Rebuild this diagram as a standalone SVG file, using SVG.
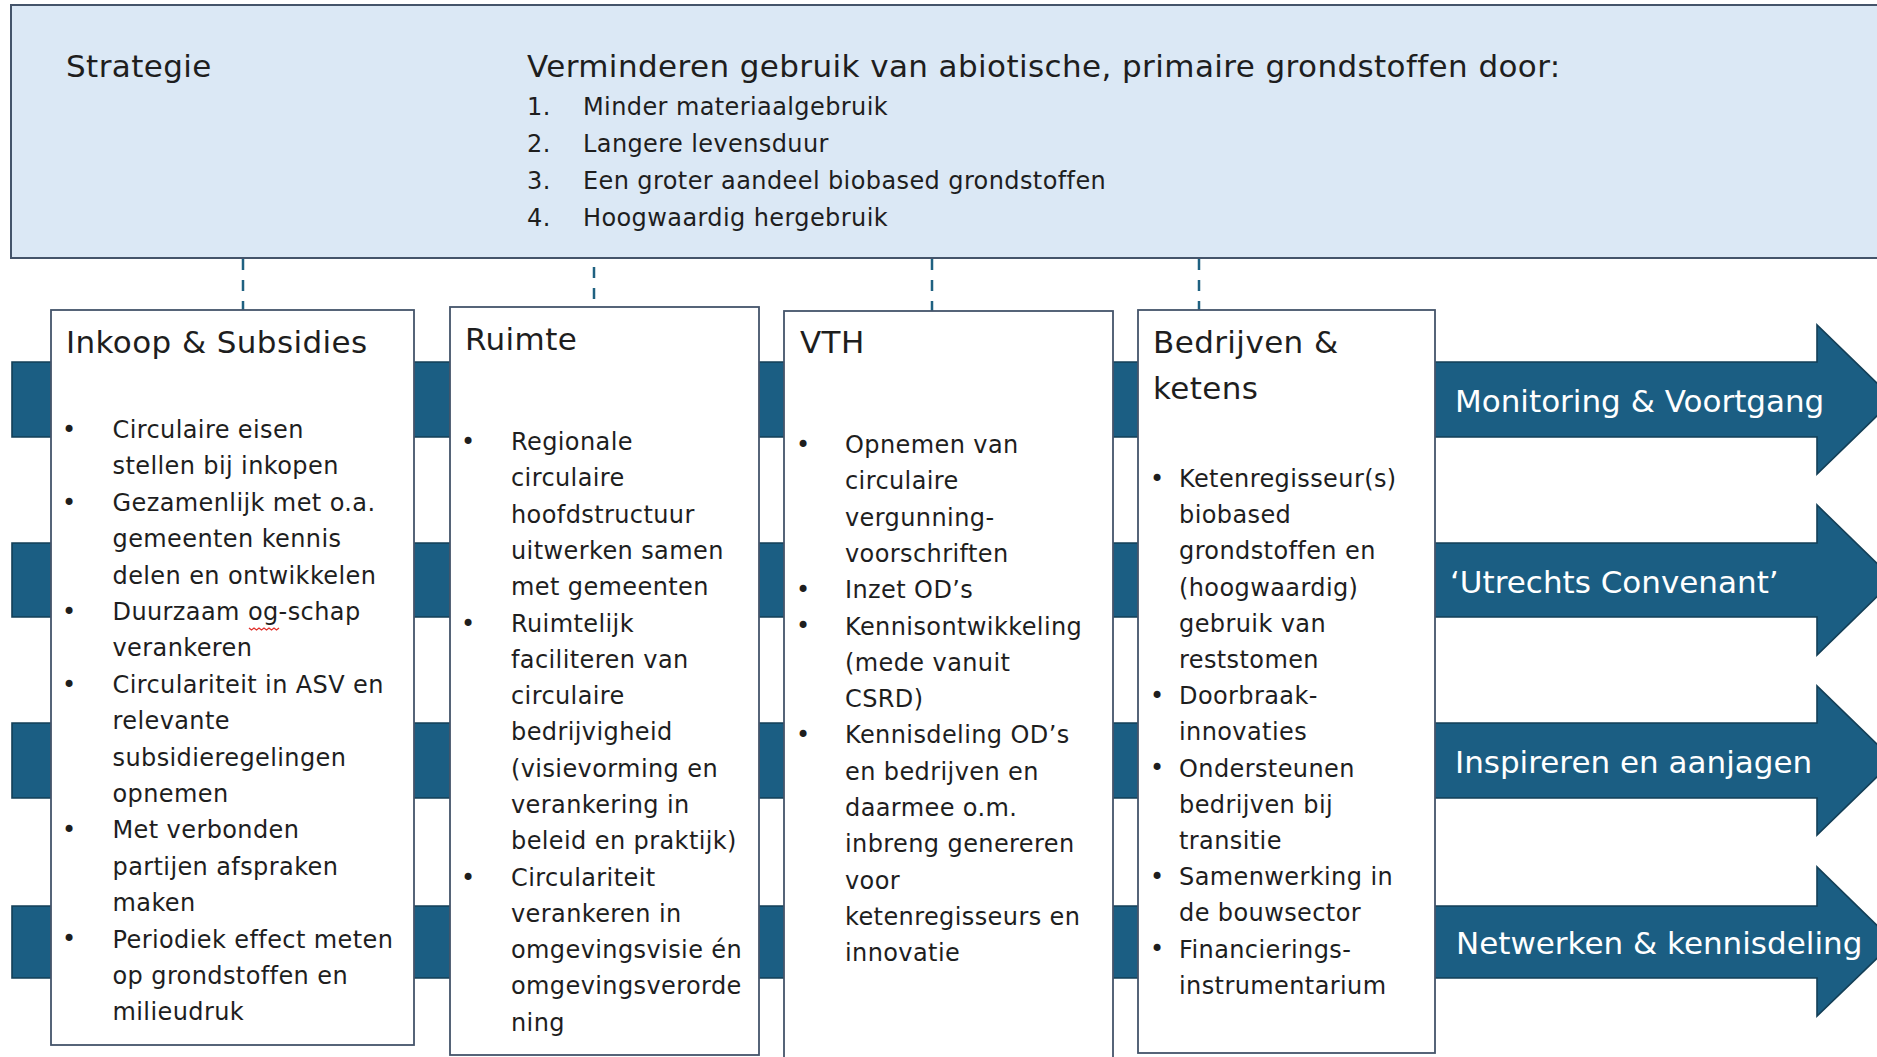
<svg xmlns="http://www.w3.org/2000/svg" width="1877" height="1057" viewBox="0 0 1877 1057">
<style>
.bg{fill:#ffffff}
.strat{fill:#dbe8f5;stroke:#44546a;stroke-width:2}
.box{fill:#ffffff;stroke:#44546a;stroke-width:1.8}
.band{fill:#1b5e83;stroke:#133f57;stroke-width:1.6}
.t{font-family:"DejaVu Sans",sans-serif;fill:#1e1e1e}
.h{font-size:31px;letter-spacing:0.4px}
.b{font-size:24px;letter-spacing:0.4px}
.lbl{font-family:"DejaVu Sans",sans-serif;font-size:31px;fill:#ffffff}
.dash{stroke:#1f6181;stroke-width:2.5;stroke-dasharray:11 10;fill:none}
.squig{fill:none;stroke:#e0302a;stroke-width:1.3}
</style>
<rect class="bg" x="0" y="0" width="1877" height="1057"/>

<g id="strategie">
<rect class="strat" x="11" y="5" width="1890" height="253"/>
<text class="t h" x="66" y="77">Strategie</text>
<text class="t h" x="527" y="77" letter-spacing="0.3">Verminderen gebruik van abiotische, primaire grondstoffen door:</text>
<g class="t b" letter-spacing="0.3">
<text x="527" y="115">1.</text><text x="583" y="115">Minder materiaalgebruik</text>
<text x="527" y="152">2.</text><text x="583" y="152">Langere levensduur</text>
<text x="527" y="189">3.</text><text x="583" y="189">Een groter aandeel biobased grondstoffen</text>
<text x="527" y="226">4.</text><text x="583" y="226">Hoogwaardig hergebruik</text>
</g>
</g>

<g id="band-monitoring">
<polygon class="band" points="12,362 1817,362 1817,325 1894,399.5 1817,474 1817,437 12,437"/>
<text class="lbl" x="1455" y="412">Monitoring &amp; Voortgang</text>
</g>
<g id="band-convenant">
<polygon class="band" points="12,543 1817,543 1817,505 1894,580 1817,655 1817,617 12,617"/>
<text class="lbl" x="1450" y="593">‘Utrechts Convenant’</text>
</g>
<g id="band-inspireren">
<polygon class="band" points="12,723 1817,723 1817,686 1894,760.5 1817,835 1817,798 12,798"/>
<text class="lbl" x="1455" y="773">Inspireren en aanjagen</text>
</g>
<g id="band-netwerken">
<polygon class="band" points="12,906 1817,906 1817,867 1894,942 1817,1016 1817,978 12,978"/>
<text class="lbl" x="1456" y="954">Netwerken &amp; kennisdeling</text>
</g>

<g id="connectors">
<line class="dash" x1="243" y1="259" x2="243" y2="310"/>
<line class="dash" x1="594" y1="267" x2="594" y2="307"/>
<line class="dash" x1="932" y1="259" x2="932" y2="311"/>
<line class="dash" x1="1199" y1="259" x2="1199" y2="310"/>
</g>

<g id="node-inkoop">
<rect class="box" x="51" y="310" width="363" height="735"/>
<text class="t h" x="66" y="353">Inkoop &amp; Subsidies</text>
<g class="t b">
<text x="62" y="438">•</text><text x="62" y="511">•</text><text x="62" y="620">•</text><text x="62" y="693">•</text><text x="62" y="838">•</text><text x="62" y="947">•</text>
</g>
<text class="t b" x="112.5" y="438">
<tspan x="112.5" dy="0">Circulaire eisen</tspan>
<tspan x="112.5" dy="36.4">stellen bij inkopen</tspan>
<tspan x="112.5" dy="36.4">Gezamenlijk met o.a.</tspan>
<tspan x="112.5" dy="36.4">gemeenten kennis</tspan>
<tspan x="112.5" dy="36.4">delen en ontwikkelen</tspan>
<tspan x="112.5" dy="36.4">Duurzaam og-schap</tspan>
<tspan x="112.5" dy="36.4">verankeren</tspan>
<tspan x="112.5" dy="36.4">Circulariteit in ASV en</tspan>
<tspan x="112.5" dy="36.4">relevante</tspan>
<tspan x="112.5" dy="36.4">subsidieregelingen</tspan>
<tspan x="112.5" dy="36.4">opnemen</tspan>
<tspan x="112.5" dy="36.4">Met verbonden</tspan>
<tspan x="112.5" dy="36.4">partijen afspraken</tspan>
<tspan x="112.5" dy="36.4">maken</tspan>
<tspan x="112.5" dy="36.4">Periodiek effect meten</tspan>
<tspan x="112.5" dy="36.4">op grondstoffen en</tspan>
<tspan x="112.5" dy="36.4">milieudruk</tspan>
</text>
<path class="squig" d="M249,628 l2.5,2 l2.5,-2 l2.5,2 l2.5,-2 l2.5,2 l2.5,-2 l2.5,2 l2.5,-2 l2.5,2 l2.5,-2 l2.5,2 l2.5,-2"/>
</g>

<g id="node-ruimte">
<rect class="box" x="450" y="307" width="309" height="748"/>
<text class="t h" x="465" y="350">Ruimte</text>
<g class="t b">
<text x="461" y="450">•</text><text x="461" y="632">•</text><text x="461" y="886">•</text>
</g>
<text class="t b" x="511" y="450">
<tspan x="511" dy="0">Regionale</tspan>
<tspan x="511" dy="36.3">circulaire</tspan>
<tspan x="511" dy="36.3">hoofdstructuur</tspan>
<tspan x="511" dy="36.3">uitwerken samen</tspan>
<tspan x="511" dy="36.3">met gemeenten</tspan>
<tspan x="511" dy="36.3">Ruimtelijk</tspan>
<tspan x="511" dy="36.3">faciliteren van</tspan>
<tspan x="511" dy="36.3">circulaire</tspan>
<tspan x="511" dy="36.3">bedrijvigheid</tspan>
<tspan x="511" dy="36.3">(visievorming en</tspan>
<tspan x="511" dy="36.3">verankering in</tspan>
<tspan x="511" dy="36.3">beleid en praktijk)</tspan>
<tspan x="511" dy="36.3">Circulariteit</tspan>
<tspan x="511" dy="36.3">verankeren in</tspan>
<tspan x="511" dy="36.3">omgevingsvisie én</tspan>
<tspan x="511" dy="36.3">omgevingsverorde</tspan>
<tspan x="511" dy="36.3">ning</tspan>
</text>
</g>

<g id="node-vth">
<rect class="box" x="784" y="311" width="329" height="770"/>
<text class="t h" x="800" y="353">VTH</text>
<g class="t b">
<text x="796" y="453">•</text><text x="796" y="598">•</text><text x="796" y="634">•</text><text x="796" y="743">•</text>
</g>
<text class="t b" x="845" y="453">
<tspan x="845" dy="0">Opnemen van</tspan>
<tspan x="845" dy="36.3">circulaire</tspan>
<tspan x="845" dy="36.3">vergunning-</tspan>
<tspan x="845" dy="36.3">voorschriften</tspan>
<tspan x="845" dy="36.3">Inzet OD’s</tspan>
<tspan x="845" dy="36.3">Kennisontwikkeling</tspan>
<tspan x="845" dy="36.3">(mede vanuit</tspan>
<tspan x="845" dy="36.3">CSRD)</tspan>
<tspan x="845" dy="36.3">Kennisdeling OD’s</tspan>
<tspan x="845" dy="36.3">en bedrijven en</tspan>
<tspan x="845" dy="36.3">daarmee o.m.</tspan>
<tspan x="845" dy="36.3">inbreng genereren</tspan>
<tspan x="845" dy="36.3">voor</tspan>
<tspan x="845" dy="36.3">ketenregisseurs en</tspan>
<tspan x="845" dy="36.3">innovatie</tspan>
</text>
</g>

<g id="node-bedrijven">
<rect class="box" x="1138" y="310" width="297" height="743"/>
<text class="t h" x="1153" y="353">Bedrijven &amp;</text>
<text class="t h" x="1153" y="399">ketens</text>
<g class="t b">
<text x="1150" y="487">•</text><text x="1150" y="704">•</text><text x="1150" y="776">•</text><text x="1150" y="885">•</text><text x="1150" y="957">•</text>
</g>
<text class="t b" x="1179" y="487">
<tspan x="1179" dy="0">Ketenregisseur(s)</tspan>
<tspan x="1179" dy="36.2">biobased</tspan>
<tspan x="1179" dy="36.2">grondstoffen en</tspan>
<tspan x="1179" dy="36.2">(hoogwaardig)</tspan>
<tspan x="1179" dy="36.2">gebruik van</tspan>
<tspan x="1179" dy="36.2">reststomen</tspan>
<tspan x="1179" dy="36.2">Doorbraak-</tspan>
<tspan x="1179" dy="36.2">innovaties</tspan>
<tspan x="1179" dy="36.2">Ondersteunen</tspan>
<tspan x="1179" dy="36.2">bedrijven bij</tspan>
<tspan x="1179" dy="36.2">transitie</tspan>
<tspan x="1179" dy="36.2">Samenwerking in</tspan>
<tspan x="1179" dy="36.2">de bouwsector</tspan>
<tspan x="1179" dy="36.2">Financierings-</tspan>
<tspan x="1179" dy="36.2">instrumentarium</tspan>
</text>
</g>
</svg>
